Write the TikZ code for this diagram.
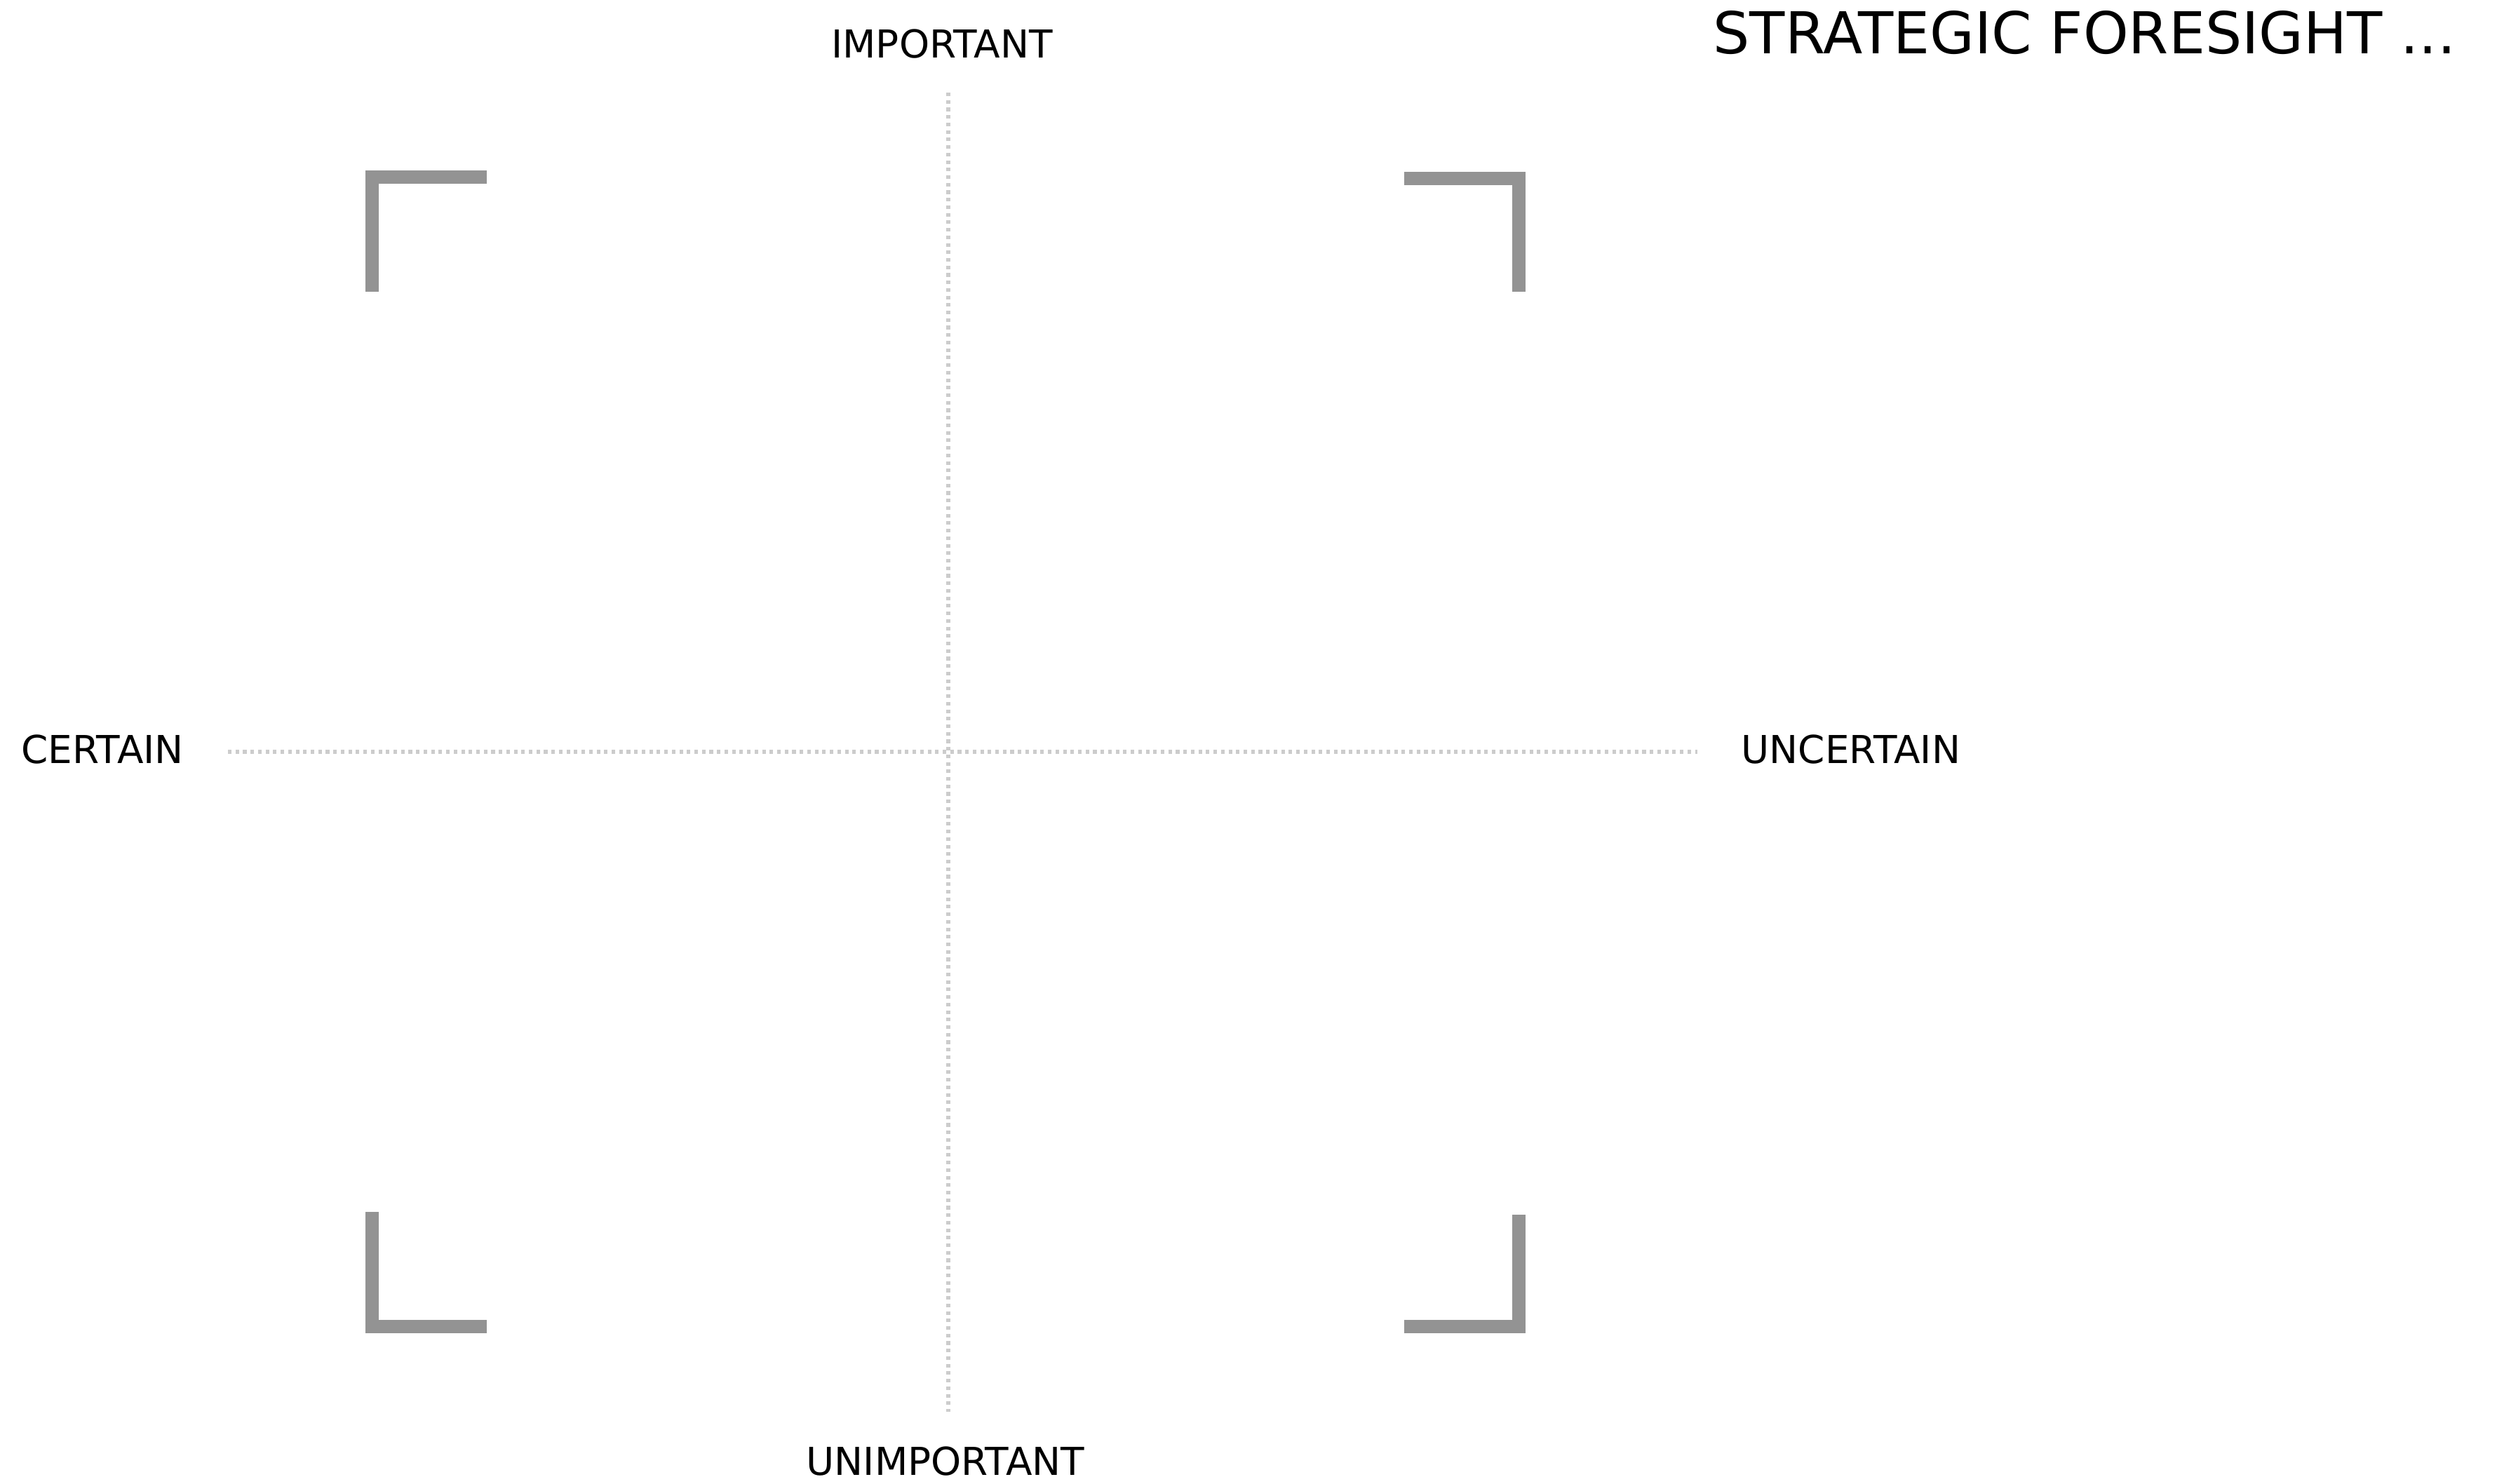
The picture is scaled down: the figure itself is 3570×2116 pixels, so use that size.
\documentclass[tikz,border=0pt]{standalone}
\usepackage{fontspec}
\setmainfont{DejaVu Sans}
\usepackage{tikz}
\usetikzlibrary{calc}

\begin{document}
\begin{tikzpicture}[x=0.01cm,y=-0.01cm,
    bracket/.style={line width=19*0.2845pt, draw={rgb,255:red,147;green,147;blue,147}, line join=miter},
    axis/.style={line width=1.45pt, draw={rgb,255:red,204;green,204;blue,204}, dash pattern=on 1.45pt off 1.6pt},
    axislabel/.style={inner sep=0pt, font=\fontsize{15.6}{18}\selectfont}]
        % Поле 3570 x 2116, вісь y донизу
        \useasboundingbox (0,0) rectangle (3570,2116);

        % Кінці осей
        \coordinate (Top) at (1352,132);
        \coordinate (Bottom) at (1352,2013);
        \coordinate (Left) at (325,1072);
        \coordinate (Right) at (2420,1072);

        % Осі (пунктир)
        \draw[axis] (Left) -- (Right);
        \draw[axis] (Top) -- (Bottom);

        % Кутики рамки
        \draw[bracket] (694,252.5) -- (530.5,252.5) -- (530.5,416);
        \draw[bracket] (2002,254.5) -- (2165.5,254.5) -- (2165.5,416);
        \draw[bracket] (530.5,1728) -- (530.5,1891.5) -- (694,1891.5);
        \draw[bracket] (2165.5,1732) -- (2165.5,1891.5) -- (2002,1891.5);

        % Підписи
        \node[axislabel, anchor=base] (important) at (1343,83) {IMPORTANT};
        \node[axislabel, anchor=base] (unimportant) at (1348,2103) {UNIMPORTANT};
        \node[axislabel, anchor=base west] (certain) at (30,1088) {CERTAIN};
        \node[axislabel, anchor=base west] (uncertain) at (2482,1088) {UNCERTAIN};

        % Заголовок
        \node[inner sep=0pt, anchor=base west, font=\fontsize{23.4}{28}\selectfont] (title) at (2442,77) {STRATEGIC FORESIGHT ...};
    \end{tikzpicture}
\end{document}
